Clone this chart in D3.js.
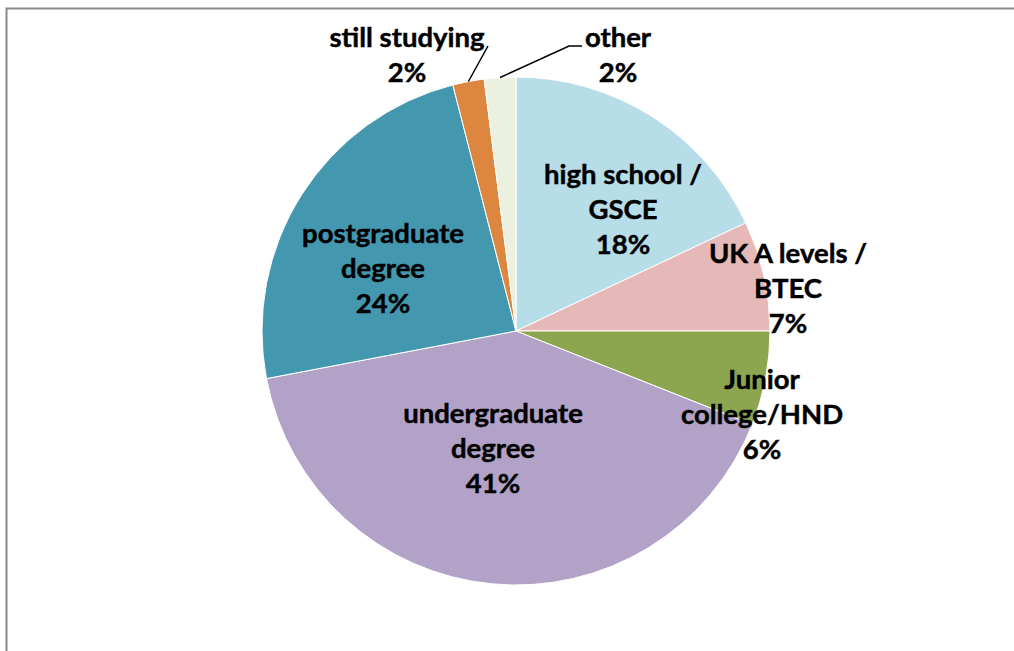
<!DOCTYPE html>
<html>
<head>
<meta charset="utf-8">
<script src="https://cdn.jsdelivr.net/npm/d3@7"></script>
<style>
  html, body { margin: 0; padding: 0; background: #fff; }
  svg { display: block; }
  .lbl { font-family: Lato, "Open Sans", sans-serif; font-weight: 700; font-size: 27.5px;
         fill: #000; stroke: #000; stroke-width: 0.45px; }
</style>
</head>
<body>
<svg id="chart" width="1014" height="651"></svg>
<script>
// Highest qualification of respondents, share of total (%)
const categories = ["high school / GSCE", "UK A levels / BTEC", "Junior college/HND",
                    "undergraduate degree", "postgraduate degree", "still studying", "other"];
const values = [18, 7, 6, 41, 24, 2, 2];
// Label text broken into lines (percentage appended as the last line)
const labelLines = [
  ["high school /", "GSCE"],
  ["UK A levels /", "BTEC"],
  ["Junior", "college/HND"],
  ["undergraduate", "degree"],
  ["postgraduate", "degree"],
  ["still studying"],
  ["other"]
];
const colors = ["#b7dde8", "#e6b9b8", "#8ca64f", "#b3a2c7", "#4398b0", "#dd8640", "#ebf1de"];

const W = 1014, H = 651;
const cx = 516, cy = 331, R = 254;
const lineGap = 35;

// Label anchors (centre x, first baseline) relative to the pie centre
const labelAnchor = [
  [107, -147], [272, -68], [246, 58], [-23, 92], [-133, -88], [-109, -284], [102, -284]
];
// Leader lines for the two thin slices: start points relative to the pie centre
const leaders = {
  5: [[-28, -285]],
  6: [[66, -285], [53, -285]]
};

const svg = d3.select("#chart");

// chart frame (only top and left edges fall inside the canvas)
svg.append("rect")
  .attr("x", 6.5).attr("y", 8.5)
  .attr("width", 1200).attr("height", 800)
  .attr("fill", "none").attr("stroke", "#8a8a8a").attr("stroke-width", 2);

const data = categories.map((c, i) => ({ name: c, value: values[i], idx: i }));

const pie = d3.pie().sort(null).value(d => d.value);
const arcs = pie(data);
const arc = d3.arc().innerRadius(0).outerRadius(R);
const color = d3.scaleOrdinal().domain(categories).range(colors);
const pct = d3.format(".0f");

const g = svg.append("g").attr("transform", `translate(${cx},${cy})`);

g.selectAll("path.slice")
  .data(arcs)
  .join("path")
  .attr("class", "slice")
  .attr("d", arc)
  .attr("fill", d => color(d.data.name))
  .attr("stroke", "#fff")
  .attr("stroke-width", 1);

// leader lines from label to the slice edge
arcs.forEach((a, i) => {
  if (!leaders[i]) return;
  const mid = (a.startAngle + a.endAngle) / 2;
  const end = [R * Math.sin(mid), -R * Math.cos(mid)];
  const pts = leaders[i].concat([end]);
  g.append("path")
    .attr("d", d3.line()(pts))
    .attr("fill", "none")
    .attr("stroke", "#000")
    .attr("stroke-width", 1.5);
});

// labels
arcs.forEach((a, i) => {
  const lines = labelLines[i].concat([pct(a.data.value) + "%"]);
  const [lx, ly] = labelAnchor[i];
  const t = g.append("text")
    .attr("class", "lbl")
    .attr("text-anchor", "middle");
  lines.forEach((s, k) => {
    t.append("tspan").attr("x", lx).attr("y", ly + k * lineGap).text(s);
  });
});
</script>
</body>
</html>
